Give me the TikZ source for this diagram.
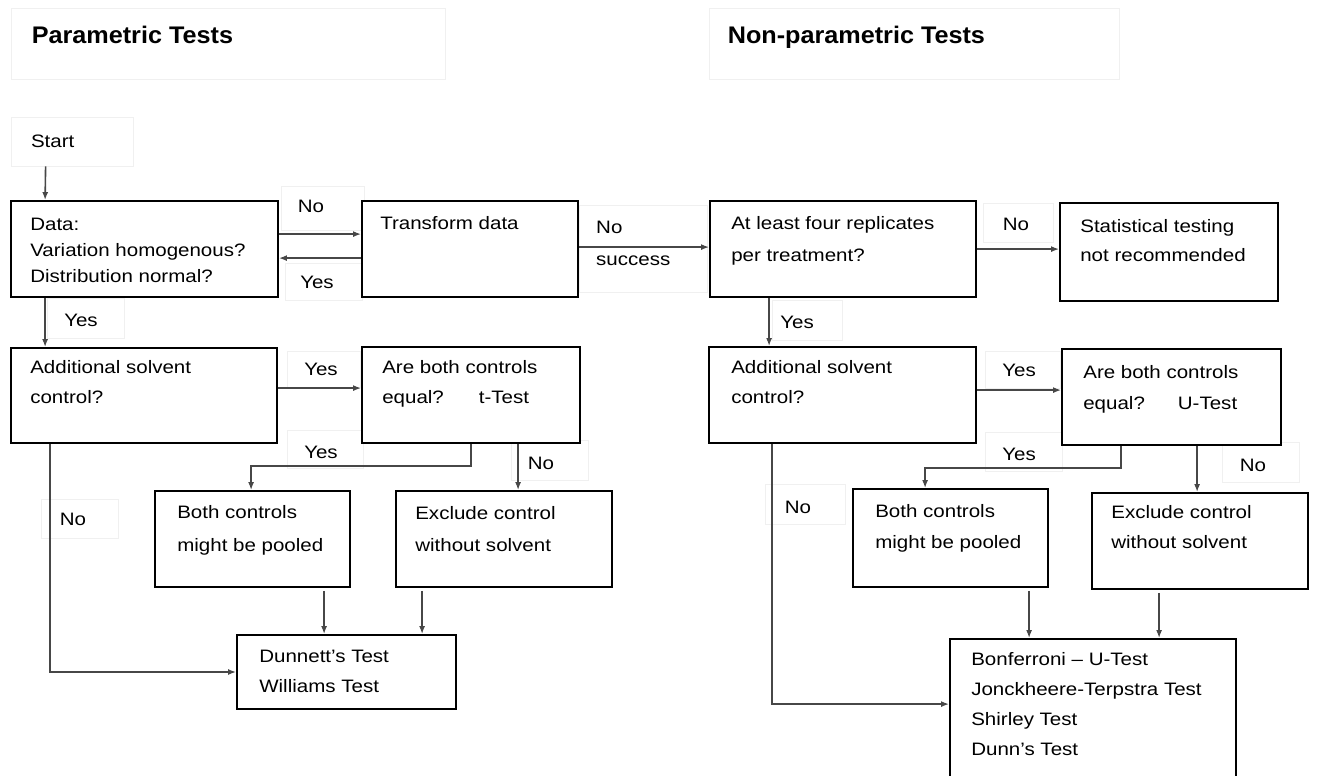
\documentclass[tikz,border=0pt]{standalone}
\usepackage{fontspec}
\setmainfont{Liberation Sans}[FakeStretch=1.14]
\newfontfamily\ttlfont{Liberation Sans}[FakeStretch=1.05]
\usetikzlibrary{arrows.meta,calc}
\newcommand\mkbox[5]{\node[box, minimum width={(#4)-(#2)}, minimum height={(#5)-(#3)}] (#1) at ({((#2)+(#4))/2},{((#3)+(#5))/2}) {};}
\newcommand\boxtext[5]{\node[txt, font=\fontsize{18}{#4}\selectfont] (#1-t) at ($(#1.north west)+(#2,#3)$) {#5};}
\newcommand\mklabel[8]{\draw[faint] (#2,#3) rectangle (#4,#5); \node[lbltxt] (#1) at (#6,#7) {#8};}
\begin{document}
\begin{tikzpicture}[x=1pt,y=-1pt,
  box/.style={draw=black,line width=1.8pt,inner sep=0pt,fill=white},
  faint/.style={draw=black!6,line width=0.8pt},
  txt/.style={anchor=north west,align=left,inner sep=0pt},
  lbltxt/.style={font=\fontsize{18}{32}\selectfont,inner sep=0pt,align=left},
  conn/.style={draw=black!72,line width=1.6pt,-{Latex[length=8pt,width=6pt]}}]
\clip (0,0) rectangle (1317,776);
\fill[white] (0,0) rectangle (1317,776);

% titles
\node[faint, minimum width=434pt, minimum height=71pt, inner sep=0pt] (ptbox) at (228,43.5) {};
\node[txt, font=\ttlfont\fontsize{24}{28}\selectfont\bfseries] (pt) at ($(ptbox.north west)+(21,18)$) {Parametric Tests};
\node[faint, minimum width=410pt, minimum height=71pt, inner sep=0pt] (npbox) at (914,43.5) {};
\node[txt, font=\ttlfont\fontsize{24}{28}\selectfont\bfseries] (np) at ($(npbox.north west)+(19,18)$) {Non-parametric Tests};

% start
\node[faint, minimum height=49pt, text width=82pt, inner xsep=20pt, inner ysep=0pt, align=left, font=\fontsize{18}{24}\selectfont] (start) at (72,141.5) {Start};

% labels (drawn first so the faint frames stay behind the boxes)
\mklabel{l1}{281}{186}{364}{230}{311}{206}{No}
\mklabel{l2}{285}{263}{362}{300}{317}{282}{Yes}
\draw[faint] (579,205) rectangle (707,292);
\node[lbltxt, anchor=north west] (l3) at (596,221) {No\\success};
\mklabel{l4}{983}{203}{1053}{242}{1016}{224}{No}
\mklabel{l5}{47}{298}{124}{338}{81}{320}{Yes}
\mklabel{l6}{772}{300}{842}{340}{797}{322}{Yes}
\mklabel{l7}{287}{351}{360}{387}{321}{369}{Yes}
\mklabel{l8}{985}{351}{1060}{388}{1019}{370}{Yes}
\mklabel{l9}{287}{430}{363}{468}{321}{452}{Yes}
\mklabel{l10}{511}{440}{588}{480}{541}{463}{No}
\mklabel{l11}{41}{499}{118}{538}{73}{519}{No}
\mklabel{l12}{985}{432}{1062}{471}{1019}{454}{Yes}
\mklabel{l13}{1222}{442}{1299}{482}{1253}{465}{No}
\mklabel{l14}{765}{484}{845}{524}{798}{507}{No}

% boxes
\mkbox{data}{11}{201}{278}{297}
\boxtext{data}{20}{18}{26}{Data:\\Variation homogenous?\\Distribution normal?}
\mkbox{trans}{362}{201}{578}{297}
\boxtext{trans}{19}{16}{26}{Transform data}
\mkbox{four}{710}{201}{976}{297}
\boxtext{four}{22}{16}{32}{At least four replicates\\per treatment?}
\mkbox{stat}{1060}{203}{1278}{301}
\boxtext{stat}{21}{17}{29}{Statistical testing\\not recommended}

\mkbox{addl}{11}{348}{277}{443}
\boxtext{addl}{20}{13}{30}{Additional solvent\\control?}
\mkbox{arel}{362}{347}{580}{443}
\boxtext{arel}{21}{14}{30}{Are both controls\\equal?\hspace{35pt}t-Test}
\mkbox{addr}{709}{347}{976}{443}
\boxtext{addr}{23}{14}{30}{Additional solvent\\control?}
\mkbox{arer}{1062}{349}{1281}{445}
\boxtext{arer}{22}{17}{31}{Are both controls\\equal?\hspace{33pt}U-Test}

\mkbox{pooll}{155}{491}{350}{587}
\boxtext{pooll}{23}{15}{33}{Both controls\\might be pooled}
\mkbox{exll}{396}{491}{612}{587}
\boxtext{exll}{20}{16}{32}{Exclude control\\without solvent}
\mkbox{dunn}{237}{635}{456}{709}
\boxtext{dunn}{23}{16}{30}{Dunnett's Test\\Williams Test}

\mkbox{poolr}{853}{489}{1048}{587}
\boxtext{poolr}{23}{16}{31}{Both controls\\might be pooled}
\mkbox{exlr}{1092}{493}{1308}{589}
\boxtext{exlr}{20}{13}{30}{Exclude control\\without solvent}
\mkbox{bonf}{950}{639}{1236}{800}
\boxtext{bonf}{22}{14}{30}{Bonferroni -- U-Test\\Jonckheere-Terpstra Test\\Shirley Test\\Dunn's Test}

% connectors
\draw[conn] ($(start.south west)+(35,0)$) -- ($(data.north west)+(35,0)$);
\draw[conn] ($(data.north east)+(0,34)$) -- ($(trans.north west)+(0,34)$);
\draw[conn] ($(trans.north west)+(0,58)$) -- ($(data.north east)+(0,58)$);
\draw[conn] ($(trans.north east)+(0,47)$) -- ($(four.north west)+(0,47)$);
\draw[conn] ($(four.north east)+(0,49)$) -- ($(stat.north west)+(0,47)$);
\draw[conn] ($(data.south west)+(35,0)$) -- ($(addl.north west)+(35,0)$);
\draw[conn] ($(four.south west)+(60,0)$) -- ($(addr.north west)+(61,0)$);
\draw[conn] ($(addl.north east)+(0,41)$) -- ($(arel.north west)+(0,42)$);
\draw[conn] ($(addr.north east)+(0,44)$) -- ($(arer.north west)+(0,42)$);

\draw[conn] ($(arel.south west)+(110,0)$) |- ($(pooll.north west)+(97,-24)$) -- ($(pooll.north west)+(97,0)$);
\draw[conn] ($(arel.south west)+(157,0)$) -- ($(exll.north west)+(123,0)$);
\draw[conn] ($(addl.south west)+(40,0)$) |- (dunn.west);
\draw[conn] ($(pooll.south west)+(170,3)$) -- ($(dunn.north west)+(88,0)$);
\draw[conn] ($(exll.south west)+(27,3)$) -- ($(dunn.north west)+(186,0)$);

\draw[conn] ($(arer.south west)+(60,0)$) |- ($(poolr.north west)+(73,-20)$) -- ($(poolr.north west)+(73,0)$);
\draw[conn] ($(arer.south west)+(136,0)$) -- ($(exlr.north west)+(106,0)$);
\draw[conn] ($(addr.south west)+(64,0)$) |- ($(bonf.north west)+(0,66)$);
\draw[conn] ($(poolr.south west)+(177,3)$) -- ($(bonf.north west)+(80,0)$);
\draw[conn] ($(exlr.south west)+(68,3)$) -- ($(bonf.north west)+(210,0)$);
\end{tikzpicture}
\end{document}
